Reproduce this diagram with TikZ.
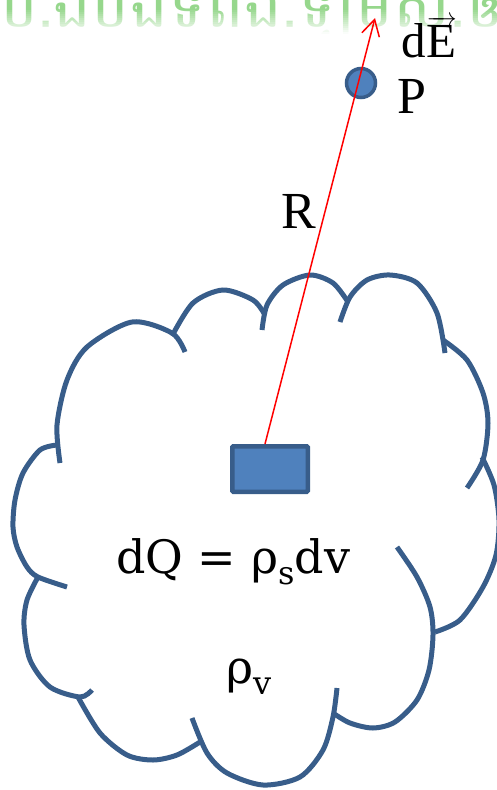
\documentclass[tikz,border=0pt]{standalone}
\usepackage{fontspec}
\setmainfont{Liberation Serif}
\newfontfamily\eqfont{DejaVu Serif}
\newfontfamily\khfont[Script=Khmer]{Battambang}
\usetikzlibrary{arrows.meta}
\definecolor{cloudblue}{HTML}{385D8A}
\definecolor{boxfill}{HTML}{4F81BD}
\definecolor{khgreen}{RGB}{150,215,140}
\begin{document}
\begin{tikzpicture}[x=1pt,y=-1pt,
  cloudarc/.style={draw=cloudblue, line width=5pt},
  blueshape/.style={draw=cloudblue, fill=boxfill},
  lbl/.style={inner sep=0pt, anchor=base west, text=black},
  conn/.style={red, line width=1.5pt, -{Straight Barb[length=16pt,width=18pt,line width=1.5pt]}}]
\useasboundingbox (0,0) rectangle (497,790);
\clip (0,0) rectangle (497,790);
% faded watermark text at the top
\node[lbl, text=khgreen, font=\khfont\fontsize{64}{64}\selectfont] (wm) at (0,27) {ប.ឯបឯទពង.ឡមស.ឲពពក};
\foreach \i in {0,...,11} {
  \fill[white, fill opacity={0.08*(\i+1)}] (0,{10+2*\i}) rectangle (497,{12+2*\i});
}
\fill[white] (0,34) rectangle (497,60);
% cloud
\draw[cloudarc] plot[smooth] coordinates {(60,463) (57,425) (67,380) (87,347) (132,322) (172,333) (185,352)};
\draw[cloudarc] plot[smooth] coordinates {(172,336) (193,303) (223,290) (253,300) (265,315)};
\draw[cloudarc] plot[smooth] coordinates {(262,330) (267,305) (283,285) (310,275) (333,283) (348,302)};
\draw[cloudarc] plot[smooth] coordinates {(340,322) (350,297) (367,280) (390,275) (417,283) (437,313) (445,353)};
\draw[cloudarc] plot[smooth] coordinates {(443,340) (467,360) (483,393) (488,423) (483,460) (467,488)};
\draw[cloudarc] plot[smooth] coordinates {(482,457) (494,485) (499,520) (496,555) (483,587) (460,620) (435,632)};
\draw[cloudarc] plot[smooth] coordinates {(397,547) (417,577) (430,607) (433,635) (429,670) (417,700) (395,722) (373,728) (350,723) (333,713)};
\draw[cloudarc] plot[smooth] coordinates {(337,688) (333,717) (323,750) (300,777) (263,785) (227,773) (207,753) (192,718)};
\draw[cloudarc] plot[smooth] coordinates {(78,697) (100,733) (127,755) (153,760) (177,755) (200,742)};
\draw[cloudarc] plot[smooth] coordinates {(38,577) (27,600) (24,625) (30,660) (50,687) (80,697) (92,690)};
\draw[cloudarc] plot[smooth] coordinates {(57,445) (40,450) (23,473) (15,500) (13,527) (17,547) (27,567) (38,577) (67,587)};
% charge element and point
\node[blueshape, rectangle, line width=4.5pt, minimum width=75.5pt, minimum height=45.5pt, rounded corners=1pt, inner sep=0pt] (dv) at (270,469) {};
\node[blueshape, circle, line width=3.5pt, minimum size=29pt, inner sep=0pt] (p) at (361,83) {};
\coordinate (tip) at (375,18);
\draw[conn] ([xshift=-5pt]dv.north) -- (tip);
% labels
\node[lbl, font=\fontsize{49}{49}\selectfont] (dE) at (401,57) {d\kern1pt$\overrightarrow{\mbox{E}}$};
\node[lbl, font=\fontsize{52}{52}\selectfont] (pl) at (397,113) {P};
\node[lbl, font=\fontsize{52}{52}\selectfont] (rl) at (281,228) {R};
\node[lbl, font=\eqfont\fontsize{46}{46}\selectfont] (eq) at (116,573) {dQ = ρ\raisebox{-0.24em}{\fontsize{32}{32}\selectfont s}dv};
\node[lbl, font=\eqfont\fontsize{46}{46}\selectfont] (rv) at (226,683) {ρ\raisebox{-0.24em}{\fontsize{32}{32}\selectfont v}};
\end{tikzpicture}
\end{document}
